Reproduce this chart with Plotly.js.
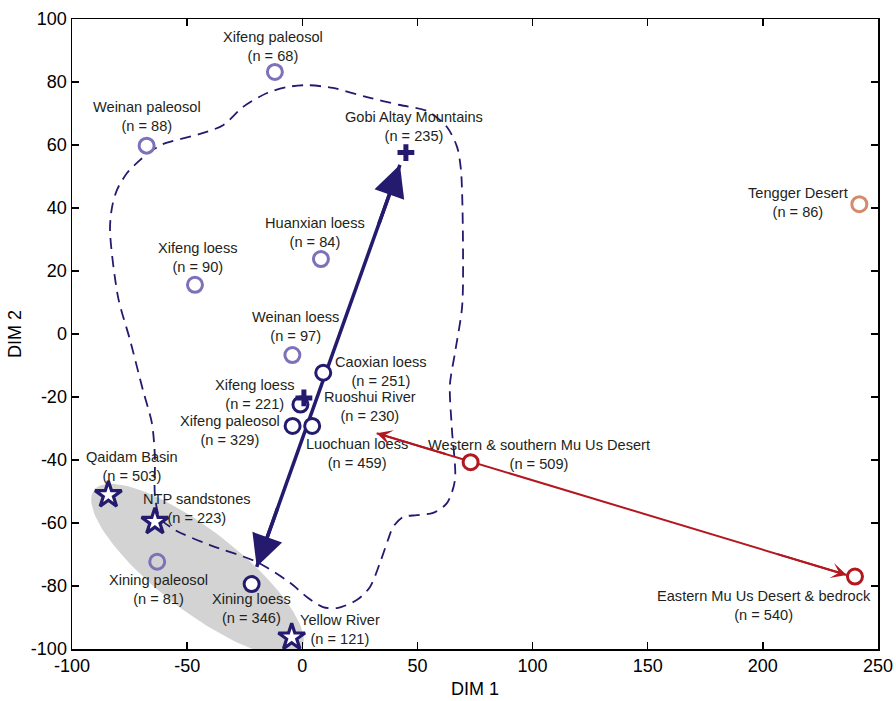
<!DOCTYPE html>
<html><head><meta charset="utf-8">
<script src="https://cdn.plot.ly/plotly-3.0.1.min.js"></script>
<style>html,body{margin:0;padding:0;background:#fff}#chart{width:896px;height:701px}</style>
</head><body><div id="chart"></div>
<script>
// ---------- data ----------
const lightNames = ['Xifeng paleosol','Weinan paleosol','Huanxian loess','Xifeng loess','Weinan loess','Xining paleosol'];
const lightN = [68, 88, 84, 90, 97, 81];
const lightDim1 = [-11.9, -67.6, 8.1, -46.6, -4.3, -63.0];
const lightDim2 = [83.2, 59.8, 23.8, 15.6, -6.7, -72.3];

const darkNames = ['Caoxian loess','Xifeng loess','Xifeng paleosol','Luochuan loess','Xining loess'];
const darkN = [251, 221, 329, 459, 346];
const darkDim1 = [9.1, -0.8, -4.2, 4.3, -22.0];
const darkDim2 = [-12.3, -22.4, -29.2, -29.2, -79.4];

const crossNames = ['Gobi Altay Mountains','Ruoshui River'];
const crossN = [235, 230];
const crossDim1 = [45.0, 0.7];
const crossDim2 = [57.6, -20.3];

const starNames = ['Qaidam Basin','NTP sandstones','Yellow River'];
const starN = [503, 223, 121];
const starDim1 = [-84.2, -64.0, -4.6];
const starDim2 = [-51.1, -59.6, -96.3];

const muUsNames = ['Western & southern Mu Us Desert','Eastern Mu Us Desert & bedrock'];
const muUsN = [509, 540];
const muUsDim1 = [73.1, 240.0];
const muUsDim2 = [-40.7, -77.0];

const tenggerNames = ['Tengger Desert'];
const tenggerN = [86];
const tenggerDim1 = [241.9];
const tenggerDim2 = [41.2];

// double-headed arrows (end points)
const blueArrowDim1 = [-19.8, 42.4];
const blueArrowDim2 = [-73.9, 53.7];
const redArrowDim1 = [32.3, 236.4];
const redArrowDim2 = [-31.5, -76.5];

// dashed envelope
const envDim1 = [-66.1,-60.5,-44.4,-34.4,-25.7,-15.3,-6.6,2.0,13.3,28.1,42.4,54.2,62.8,67.2,68.9,69.8,69.4,66.3,64.1,65.0,66.3,62.8,56.8,49.8,43.7,39.4,37.2,33.7,29.4,23.8,15.1,9.0,2.0,-5.3,-19.7,-40.1,-55.3,-61.8,-64.0,-64.0,-65.3,-69.2,-74.8,-80.0,-83.5,-82.6,-80.5,-76.1,-70.5,-66.1];
const envDim2 = [57.8,60.3,63.5,66.3,72.1,76.5,78.4,79.0,78.1,75.2,72.7,70.8,65.7,59.4,52.1,26.7,8.6,-6.0,-16.2,-30.5,-46.3,-53.7,-56.8,-57.5,-58.1,-61.3,-65.4,-72.7,-80.3,-84.4,-87.0,-86.7,-83.5,-79.0,-72.4,-67.0,-62.2,-58.4,-51.1,-39.0,-28.3,-17.8,-1.9,11.7,33.0,40.3,45.7,51.1,55.2,57.8];

// grey ellipse: major-axis end points and minor/major ratio (screen space)
const ellipseDim1 = [-90.4, -0.6];
const ellipseDim2 = [-49.5, -100.3];
const ellipseRatio = 0.31;

const xTickVals = [-100, -50, 0, 50, 100, 150, 200, 250];
const xTickText = ['-100', '-50', '0', '50', '100', '150', '200', '250'];
const yTickVals = [-100, -80, -60, -40, -20, 0, 20, 40, 60, 80, 100];
const yTickText = ['-100', '-80', '-60', '-40', '-20', '0', '20', '40', '60', '80', '100'];

// ---------- style / layout ----------
const NAVY = '#241b6e', LIGHT = '#7d72b9', RED = '#b3171f', ORANGE = '#d58a6c', GREY = '#d3d3d3';
const W = 896, H = 701, M = {l: 72, r: 18, t: 19, b: 52};
const X0 = -100, X1 = 250, Y0 = -100, Y1 = 100;
const pxX = (W - M.l - M.r) / (X1 - X0), pxY = (H - M.t - M.b) / (Y1 - Y0);

// ellipse outline built from parameters (in screen proportions)
function ellipsePts() {
  const ax = ellipseDim1[0] * pxX, ay = ellipseDim2[0] * pxY;
  const bx = ellipseDim1[1] * pxX, by = ellipseDim2[1] * pxY;
  const cx = (ax + bx) / 2, cy = (ay + by) / 2;
  const a = Math.hypot(bx - ax, by - ay) / 2, b = a * ellipseRatio;
  const ang = Math.atan2(by - ay, bx - ax);
  const xs = [], ys = [];
  for (let i = 0; i <= 120; i++) {
    const t = i / 120 * 2 * Math.PI;
    const u = a * Math.cos(t), v = b * Math.sin(t);
    xs.push((cx + u * Math.cos(ang) - v * Math.sin(ang)) / pxX);
    ys.push((cy + u * Math.sin(ang) + v * Math.cos(ang)) / pxY);
  }
  return [xs, ys];
}
const [elX, elY] = ellipsePts();

const traces = [
  {x: elX, y: elY, mode: 'lines', fill: 'toself', fillcolor: GREY, line: {width: 0, color: GREY}, hoverinfo: 'skip'},
  {x: envDim1, y: envDim2, mode: 'lines', line: {color: NAVY, width: 1.8, dash: '11px,7px', shape: 'spline', smoothing: 0.8}, hoverinfo: 'skip'},
  {x: blueArrowDim1, y: blueArrowDim2, mode: 'lines', line: {color: NAVY, width: 3.5}, hoverinfo: 'skip'},
  {x: redArrowDim1, y: redArrowDim2, mode: 'lines', line: {color: RED, width: 2}, hoverinfo: 'skip'},
  {x: lightDim1, y: lightDim2, mode: 'markers', text: lightNames,
   marker: {symbol: 'circle-open', size: 15, color: LIGHT, line: {width: 3, color: LIGHT}}},
  {x: darkDim1, y: darkDim2, mode: 'markers', text: darkNames,
   marker: {symbol: 'circle', size: 15, color: '#ffffff', line: {width: 3, color: NAVY}}},
  {x: crossDim1, y: crossDim2, mode: 'markers', text: crossNames,
   marker: {symbol: 'cross-thin-open', size: 12, color: NAVY, line: {width: 5, color: NAVY}}},
  {x: starDim1, y: starDim2, mode: 'markers', text: starNames,
   marker: {symbol: 'star', size: 20, color: '#ffffff', line: {width: 3.2, color: NAVY}}},
  {x: muUsDim1, y: muUsDim2, mode: 'markers', text: muUsNames,
   marker: {symbol: 'circle', size: 15, color: '#ffffff', line: {width: 3, color: RED}}},
  {x: tenggerDim1, y: tenggerDim2, mode: 'markers', text: tenggerNames,
   marker: {symbol: 'circle-open', size: 15, color: ORANGE, line: {width: 3, color: ORANGE}}}
];

// label offsets in pixels [dx, dy-up]
const lightOff = [[-2,25],[0,29],[-6,27],[3.5,27],[3,28.5],[1,-28]];
const darkOff = [[58,1],[-45,10.5],[-62.7,-4.5],[45,-28],[0,-24.5]];
const crossOff = [[8,26.5],[66,-8.5]];
const starOff = [[24,28.5],[42.5,13.7],[48,8]];
const muUsOff = [[68,8],[-90.5,-29.3]];
const tenggerOff = [[-61.3,2]];

const annotations = [];
function addLabels(names, ns, xs, ys, offs) {
  names.forEach((nm, i) => annotations.push({
    x: xs[i], y: ys[i], xref: 'x', yref: 'y', showarrow: false,
    text: nm + '<br>(n = ' + ns[i] + ')', xanchor: 'center', yanchor: 'middle',
    xshift: offs[i][0], yshift: offs[i][1],
    font: {family: 'Liberation Sans, Arial, sans-serif', size: 14.6, color: '#231f20'}
  }));
}
addLabels(lightNames, lightN, lightDim1, lightDim2, lightOff);
addLabels(darkNames, darkN, darkDim1, darkDim2, darkOff);
addLabels(crossNames, crossN, crossDim1, crossDim2, crossOff);
addLabels(starNames, starN, starDim1, starDim2, starOff);
addLabels(muUsNames, muUsN, muUsDim1, muUsDim2, muUsOff);
addLabels(tenggerNames, tenggerN, tenggerDim1, tenggerDim2, tenggerOff);

function addHeads(xs, ys, color, width, size, head) {
  for (let k = 0; k < 2; k++) {
    const o = 1 - k;
    annotations.push({
      x: xs[k], y: ys[k], ax: xs[k] + 0.15 * (xs[o] - xs[k]), ay: ys[k] + 0.15 * (ys[o] - ys[k]),
      xref: 'x', yref: 'y', axref: 'x', ayref: 'y', text: '', showarrow: true,
      arrowhead: head, arrowsize: size, arrowwidth: width, arrowcolor: color, standoff: 0
    });
  }
}
addHeads(blueArrowDim1, blueArrowDim2, NAVY, 3.5, 1.8, 2);
addHeads(redArrowDim1, redArrowDim2, RED, 2, 1.3, 3);

const axisCommon = {
  showgrid: false, zeroline: false, showline: true, linecolor: '#000', linewidth: 1.5,
  mirror: 'allticks', ticks: 'inside', ticklen: 7, tickwidth: 1.5, tickcolor: '#000',
  tickfont: {family: 'Liberation Sans, Arial, sans-serif', size: 18, color: '#000'},
  tickmode: 'array', automargin: false
};

const layout = {
  width: W, height: H, margin: M, showlegend: false,
  paper_bgcolor: '#fff', plot_bgcolor: '#fff',
  font: {family: 'Liberation Sans, Arial, sans-serif'},
  xaxis: Object.assign({}, axisCommon, {range: [X0, X1], tickvals: xTickVals, ticktext: xTickText,
    title: {text: 'DIM 1', font: {size: 18, color: '#000'}, standoff: 7}}),
  yaxis: Object.assign({}, axisCommon, {range: [Y0, Y1], tickvals: yTickVals, ticktext: yTickText,
    title: {text: 'DIM 2', font: {size: 18, color: '#000'}, standoff: 4}}),
  annotations: annotations
};

Plotly.newPlot('chart', traces, layout, {displayModeBar: false, staticPlot: true});
</script>
</body></html>
